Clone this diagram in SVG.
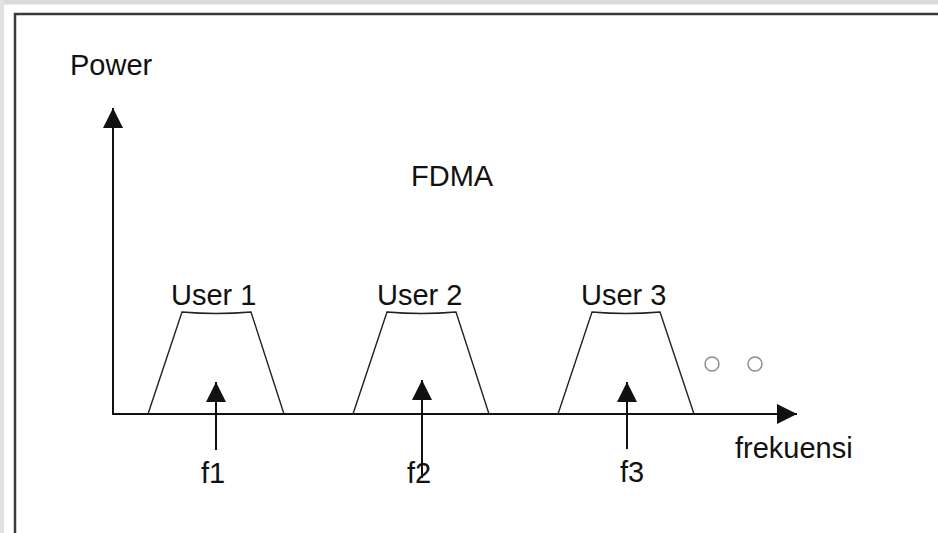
<svg xmlns="http://www.w3.org/2000/svg" width="938" height="533" viewBox="0 0 938 533">
  <style>
    .lbl { font-family: "Liberation Sans", Arial, sans-serif; font-size: 29px; fill: #111; }
    .band { fill: none; stroke: #222; stroke-width: 1.4; stroke-linejoin: miter; }
    .axis { fill: none; stroke: #111; stroke-width: 2; }
    .freq { fill: none; stroke: #111; stroke-width: 2; }
    .dot { fill: none; stroke: #8a8a8a; stroke-width: 1.4; }
  </style>
  <defs>
    <marker id="head" viewBox="0 0 20 20" refX="20" refY="10" markerWidth="20" markerHeight="20" markerUnits="userSpaceOnUse" orient="auto">
      <path d="M0,0 L20,10 L0,20 Z" fill="#111"/>
    </marker>
  </defs>

  <!-- page margin and frame -->
  <rect x="0" y="0" width="938" height="533" fill="#ffffff"/>
  <rect x="0" y="0" width="938" height="4.5" fill="#dadada"/>
  <rect x="0" y="0" width="4" height="533" fill="#e2e2e2"/>
  <path d="M15,533 V14 H938" fill="none" stroke="#3a3a3a" stroke-width="2.5"/>

  <!-- axes and frequency markers -->
  <g id="connectors">
    <line class="axis" x1="113" y1="414" x2="113" y2="108" marker-end="url(#head)"/>
    <line class="axis" x1="112" y1="414" x2="797" y2="414" marker-end="url(#head)"/>
    <line class="freq" x1="216" y1="450" x2="216" y2="382" marker-end="url(#head)"/>
    <line class="freq" x1="422" y1="478" x2="422" y2="380" marker-end="url(#head)"/>
    <line class="freq" x1="627" y1="449" x2="627" y2="382" marker-end="url(#head)"/>
  </g>

  <g id="axis-labels">
    <text class="lbl" x="70" y="75">Power</text>
    <text class="lbl" x="735" y="458">frekuensi</text>
    <text class="lbl" x="411" y="186">FDMA</text>
  </g>

  <!-- user channels -->
  <g id="user1">
    <path class="band" d="M148,414 L182,312 Q216.5,315 251,312 L284,414"/>
    <text class="lbl" x="171" y="305">User 1</text>
    <text class="lbl" x="201" y="483">f1</text>
  </g>
  <g id="user2">
    <path class="band" d="M353,414 L387,312 Q421.5,315 456,312 L489,414"/>
    <text class="lbl" x="377" y="305">User 2</text>
    <text class="lbl" x="407" y="483">f2</text>
  </g>
  <g id="user3">
    <path class="band" d="M558,414 L592,312 Q626,315 660,312 L694,414"/>
    <text class="lbl" x="581" y="305">User 3</text>
    <text class="lbl" x="620" y="482">f3</text>
  </g>

  <!-- further channels -->
  <g id="more">
    <circle class="dot" cx="712" cy="364" r="7"/>
    <circle class="dot" cx="755" cy="364" r="7"/>
  </g>
</svg>
